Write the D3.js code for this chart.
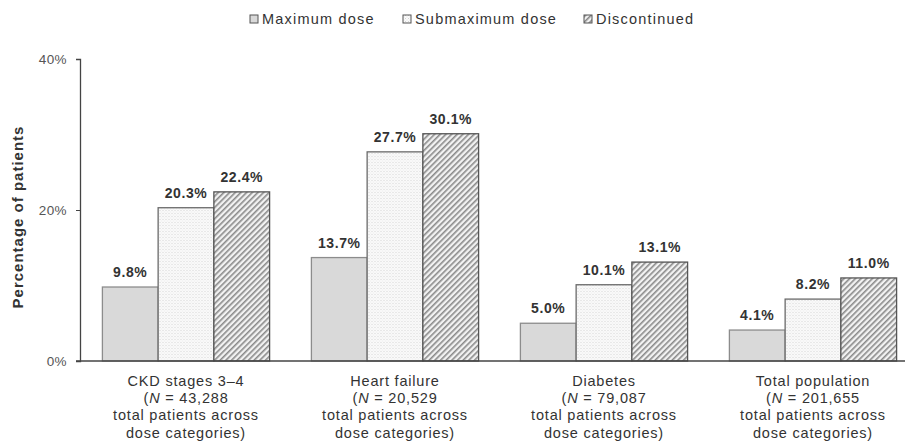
<!DOCTYPE html>
<html>
<head>
<meta charset="utf-8">
<script src="https://cdn.jsdelivr.net/npm/d3@7"></script>
<style>
  html, body { margin: 0; padding: 0; background: #fff; }
  svg { display: block; font-family: "Liberation Sans", Arial, sans-serif; }
</style>
</head>
<body>
<svg id="chart" width="905" height="445"></svg>
<script>
// Patient groups and their label lines
const categories = ["CKD stages 3–4", "Heart failure", "Diabetes", "Total population"];
const categoryN = ["43,288", "20,529", "79,087", "201,655"];

// Dose categories (series)
const seriesNames = ["Maximum dose", "Submaximum dose", "Discontinued"];

// Percentage of patients per series, one value per patient group
const maximumDose = [9.8, 13.7, 5.0, 4.1];
const submaximumDose = [20.3, 27.7, 10.1, 8.2];
const discontinued = [22.4, 30.1, 13.1, 11.0];

// Y-axis ticks
const yTicks = [0, 20, 40];

const seriesValues = [maximumDose, submaximumDose, discontinued];

const svg = d3.select("#chart");

const x0 = d3.scaleBand().domain(categories).range([81.5, 917.5]).padding(0);
const x1 = d3.scaleBand().domain(seriesNames)
  .range([x0.bandwidth() * 0.1, x0.bandwidth() * 0.9]).padding(0);
const y = d3.scaleLinear().domain([0, 40]).range([361, 59]);

// Fill patterns
const defs = svg.append("defs");
const dots = defs.append("pattern").attr("id", "dots")
  .attr("patternUnits", "userSpaceOnUse").attr("width", 3).attr("height", 3);
dots.append("rect").attr("width", 3).attr("height", 3).attr("fill", "#fbfbfb");
dots.append("rect").attr("x", 0).attr("y", 0).attr("width", 1).attr("height", 1).attr("fill", "#d4d4d4");
dots.append("rect").attr("x", 1.5).attr("y", 1.5).attr("width", 1).attr("height", 1).attr("fill", "#e2e2e2");

const hatch = defs.append("pattern").attr("id", "hatch")
  .attr("patternUnits", "userSpaceOnUse").attr("width", 4).attr("height", 4)
  .attr("patternTransform", "rotate(45)");
hatch.append("rect").attr("width", 4).attr("height", 4).attr("fill", "#f2f2f2");
hatch.append("rect").attr("x", 0).attr("y", 0).attr("width", 1.6).attr("height", 4).attr("fill", "#8a8a8a");

const fills = { "Maximum dose": "#d9d9d9", "Submaximum dose": "url(#dots)", "Discontinued": "url(#hatch)" };
const strokes = { "Maximum dose": "#8c8c8c", "Submaximum dose": "#6a6a6a", "Discontinued": "#555" };

// Legend
const legendItems = [
  { name: "Maximum dose", x: 250 },
  { name: "Submaximum dose", x: 403 },
  { name: "Discontinued", x: 584 }
];
const lg = svg.append("g");
legendItems.forEach(d => {
  lg.append("rect").attr("x", d.x).attr("y", 15).attr("width", 8).attr("height", 8)
    .attr("fill", fills[d.name]).attr("stroke", "#555").attr("stroke-width", 1);
  lg.append("text").attr("x", d.x + 12).attr("y", 24)
    .attr("font-size", 14.5).attr("letter-spacing", 1.2).attr("fill", "#333").text(d.name);
});

// Bars
const groups = svg.append("g").selectAll("g").data(categories).join("g")
  .attr("transform", d => `translate(${x0(d)},0)`);

groups.each(function(cat, ci) {
  const g = d3.select(this);
  seriesNames.forEach((s, si) => {
    const v = seriesValues[si][ci];
    g.append("rect")
      .attr("x", x1(s)).attr("y", y(v))
      .attr("width", x1.bandwidth()).attr("height", y(0) - y(v))
      .attr("fill", fills[s]).attr("stroke", strokes[s]).attr("stroke-width", 1.3);
    g.append("text")
      .attr("x", x1(s) + x1.bandwidth() / 2).attr("y", y(v) - 10)
      .attr("text-anchor", "middle").attr("font-size", 14).attr("font-weight", "bold")
      .attr("letter-spacing", 0.6).attr("fill", "#333").text(d3.format(".1f")(v) + "%");
  });
});

// Y axis
const yAxis = svg.append("g").attr("transform", "translate(80,0)")
  .call(d3.axisLeft(y).tickValues(yTicks).tickSize(4).tickFormat(d => d + "%"));
yAxis.select(".domain").attr("stroke", "#444").attr("stroke-width", 1.3);
yAxis.selectAll(".tick line").attr("stroke", "#444");
yAxis.selectAll(".tick text").attr("font-size", 13.5).attr("fill", "#555")
  .attr("letter-spacing", 0.4)
  .attr("font-family", "Liberation Sans, Arial, sans-serif").attr("x", -13);

// X axis baseline
svg.append("line").attr("x1", 76).attr("x2", 905).attr("y1", y(0)).attr("y2", y(0))
  .attr("stroke", "#444").attr("stroke-width", 1.5);

// Category labels
const labelG = svg.append("g");
categories.forEach((c, i) => {
  const cx = x0(c) + x0.bandwidth() / 2;
  const t = labelG.append("text").attr("text-anchor", "middle")
    .attr("font-size", 14.5).attr("letter-spacing", 0.8).attr("fill", "#333");
  t.append("tspan").attr("x", cx).attr("y", 385.5).text(c);
  const l2 = t.append("tspan").attr("x", cx).attr("y", 403);
  l2.append("tspan").text("(");
  l2.append("tspan").attr("font-style", "italic").text("N");
  l2.append("tspan").text(" = " + categoryN[i]);
  t.append("tspan").attr("x", cx).attr("y", 420).text("total patients across");
  t.append("tspan").attr("x", cx).attr("y", 437.5).text("dose categories)");
});

// Y axis title
svg.append("text")
  .attr("transform", "translate(23,217) rotate(-90)")
  .attr("text-anchor", "middle").attr("font-size", 15).attr("font-weight", "bold")
  .attr("letter-spacing", 1).attr("fill", "#333").text("Percentage of patients");
</script>
</body>
</html>
